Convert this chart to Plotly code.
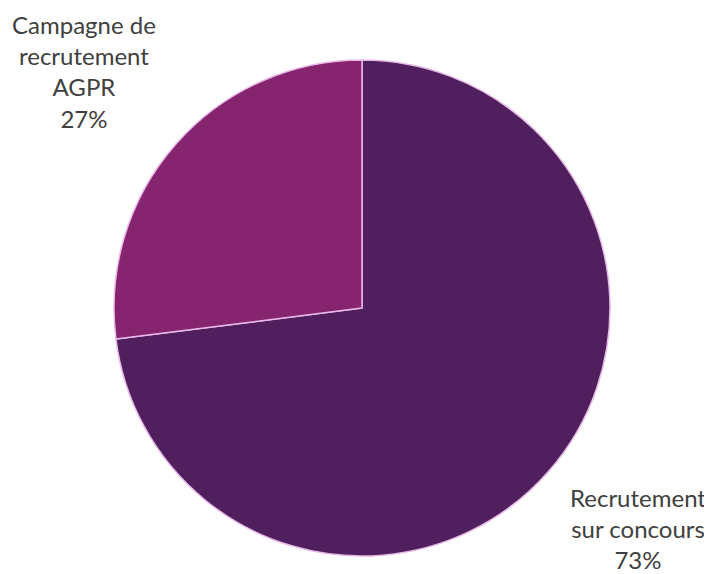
import plotly.graph_objects as go

labels = ["Recrutement<br>sur concours", "Campagne de<br>recrutement<br>AGPR"]
values = [73, 27]
colors = ["#4F1F5E", "#862470"]

W, H = 712, 574
# page body has an 8px margin; positions below are in figure pixels
cx, cy, r = 354, 300, 248

fig = go.Figure(go.Pie(
    labels=labels,
    values=values,
    sort=False,
    direction="clockwise",
    rotation=0,
    marker=dict(colors=colors, line=dict(color="#E8B8E8", width=1.5)),
    textinfo="none",
    hoverinfo="label+percent",
    showlegend=False,
    domain=dict(x=[(cx - r) / W, (cx + r) / W], y=[1 - (cy + r) / H, 1 - (cy - r) / H]),
))

total = sum(values)
label_pos = [(630, 520), (76, 64)]
for lab, v, (px, py) in zip(labels, values, label_pos):
    fig.add_annotation(
        x=px / W, y=1 - py / H, xref="paper", yref="paper",
        text=f"{lab}<br>{round(100 * v / total)}%",
        showarrow=False, align="center",
        font=dict(family="Lato, Open Sans, sans-serif", size=24, color="#404040"),
        xanchor="center", yanchor="middle",
    )

fig.update_layout(
    width=W, height=H,
    margin=dict(l=0, r=0, t=0, b=0),
    paper_bgcolor="white", plot_bgcolor="white",
)
fig.write_html("out.html")
